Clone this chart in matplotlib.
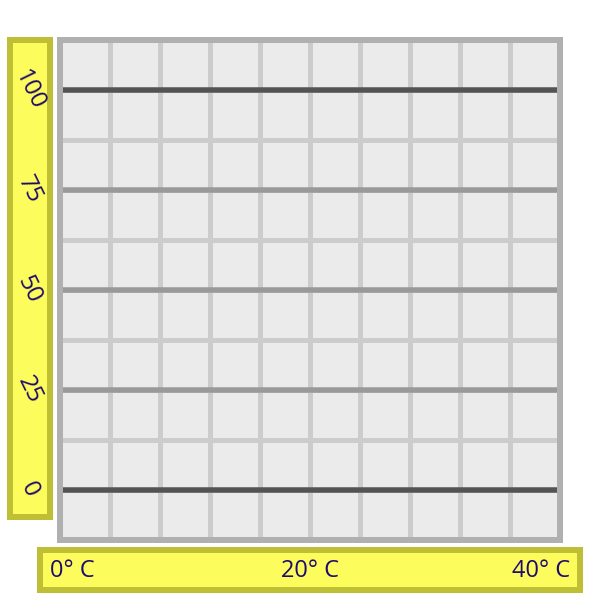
import numpy as np
import matplotlib
matplotlib.use("Agg")
import matplotlib.pyplot as plt
import matplotlib.patches as patches
import matplotlib.transforms as mtransforms

# chart data
y_ticks = [0, 25, 50, 75, 100]
y_labels = ["0", "25", "50", "75", "100"]
y_tick_colors = ["#535353", "#999999", "#999999", "#999999", "#535353"]
y_minor_step = 12.5
x_ticks = [0, 20, 40]
x_labels = ["0° C", "20° C", "40° C"]
x_minor_step = 4

text_color = "#1f0a6e"
box_fill = "#fcfc5c"
box_edge = "#bfbf36"
px = 72 / 100  # points per pixel at dpi 100

fig = plt.figure(figsize=(6, 6), dpi=100)
ax = fig.add_axes([60 / 600, 60 / 600, 500 / 600, 500 / 600])
ax.set_xlim(0, 40)
ax.set_ylim(-12.5, 112.5)
ax.set_facecolor("#ebebeb")

# light grid
for v in np.arange(x_minor_step, 40, x_minor_step):
    ax.axvline(v, color="#cccccc", lw=5 * px, zorder=1)
for v in np.arange(-12.5 + y_minor_step, 112.5, y_minor_step):
    ax.axhline(v, color="#cccccc", lw=5 * px, zorder=1)

# major horizontal lines
for v, c in zip(y_ticks, y_tick_colors):
    ax.axhline(v, color=c, lw=5.5 * px, zorder=2)

for s in ax.spines.values():
    s.set_color("#b0b0b0")
    s.set_linewidth(6 * px)
    s.set_zorder(3)
ax.set_xticks([])
ax.set_yticks([])

# yellow label boxes
fig.patches.append(patches.Rectangle((10 / 600, 83 / 600), 40 / 600, 477 / 600,
                                     transform=fig.transFigure, facecolor=box_fill,
                                     edgecolor=box_edge, lw=6 * px))
fig.patches.append(patches.Rectangle((40 / 600, 10 / 600), 540 / 600, 40 / 600,
                                     transform=fig.transFigure, facecolor=box_fill,
                                     edgecolor=box_edge, lw=6 * px))

# y labels
ytr = mtransforms.blended_transform_factory(fig.transFigure, ax.transData)
for v, lab in zip(y_ticks, y_labels):
    fig.text(29 / 600, v, lab, transform=ytr, rotation=-64, ha="center", va="center",
             fontsize=17.5, color=text_color, family="Open Sans")

# x labels
xtr = mtransforms.blended_transform_factory(ax.transData, fig.transFigure)
aligns = ["left", "center", "right"]
shifts = [-10, 0, 10]
for v, lab, ha, sh in zip(x_ticks, x_labels, aligns, shifts):
    tr = mtransforms.offset_copy(xtr, fig=fig, x=sh, y=0, units="dots")
    fig.text(v, 29 / 600, lab, transform=tr, ha=ha, va="center",
             fontsize=17, color=text_color, family="Open Sans")

fig.savefig("out.png", dpi=100)
